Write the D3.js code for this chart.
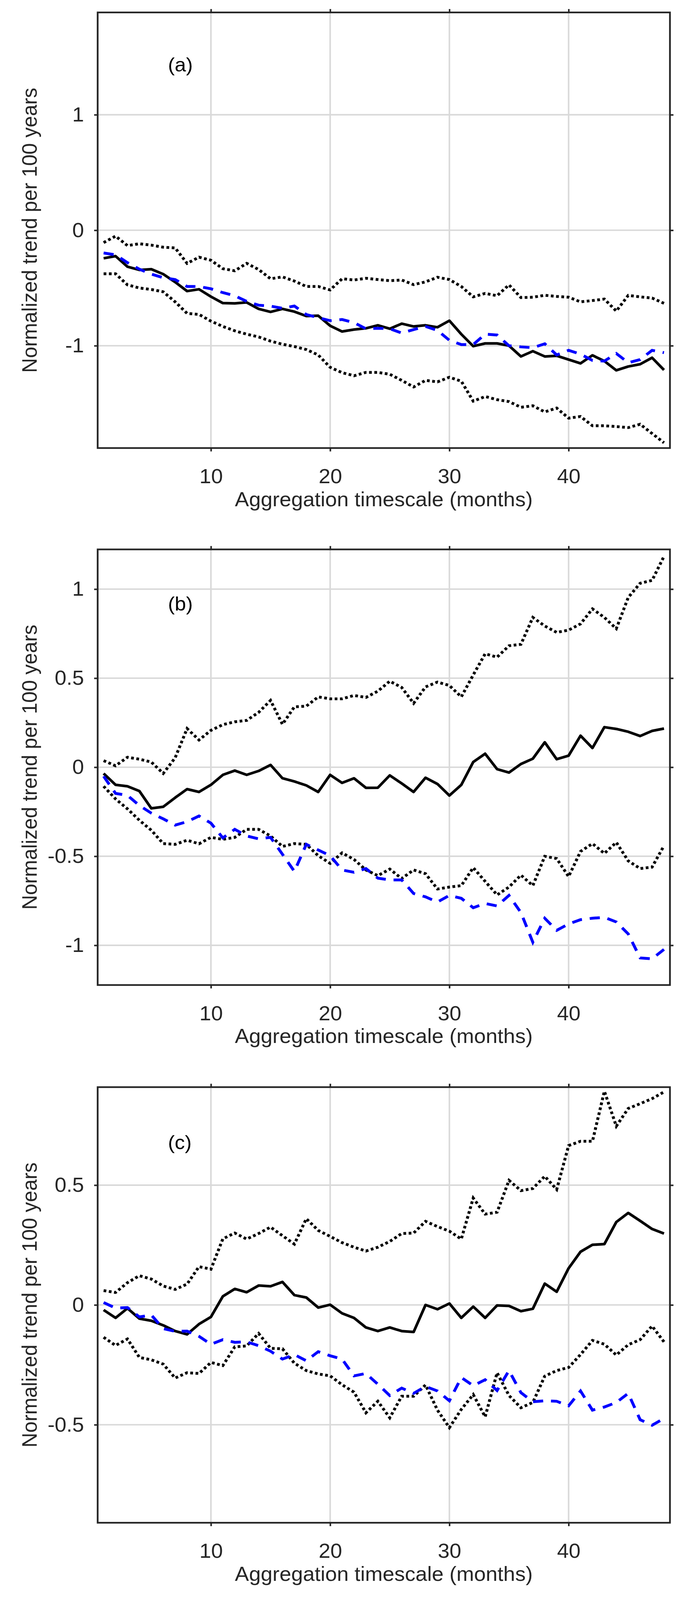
<!DOCTYPE html>
<html>
<head>
<meta charset="utf-8">
<script src="https://cdn.jsdelivr.net/npm/d3@7"></script>
<style>
  html, body { margin: 0; padding: 0; background: #fff; overflow: hidden; }
  svg { display: block; }
  text { font-family: "Liberation Sans", Arial, Helvetica, sans-serif; }
</style>
</head>
<body>
<script>
var months = [1,2,3,4,5,6,7,8,9,10,11,12,13,14,15,16,17,18,19,20,21,22,23,24,
              25,26,27,28,29,30,31,32,33,34,35,36,37,38,39,40,41,42,43,44,45,46,47,48];
var xTicks = [10, 20, 30, 40];

// panel (a)
var aMean  = [-0.243,-0.224,-0.316,-0.344,-0.337,-0.38,-0.449,-0.527,-0.511,-0.575,
              -0.631,-0.633,-0.625,-0.681,-0.707,-0.681,-0.705,-0.743,-0.74,-0.827,
              -0.877,-0.86,-0.849,-0.823,-0.853,-0.809,-0.833,-0.823,-0.84,-0.783,
              -0.9,-1.004,-0.98,-0.98,-1.0,-1.093,-1.047,-1.093,-1.087,-1.12,
              -1.153,-1.083,-1.133,-1.213,-1.18,-1.16,-1.104,-1.21];
var aUpper = [-0.107,-0.051,-0.133,-0.117,-0.129,-0.147,-0.153,-0.287,-0.233,-0.26,
              -0.333,-0.351,-0.287,-0.34,-0.42,-0.404,-0.44,-0.487,-0.487,-0.517,
              -0.42,-0.431,-0.416,-0.427,-0.437,-0.431,-0.471,-0.447,-0.407,-0.427,
              -0.487,-0.577,-0.547,-0.567,-0.473,-0.583,-0.58,-0.563,-0.573,-0.58,
              -0.62,-0.609,-0.596,-0.7,-0.564,-0.577,-0.587,-0.633];
var aLower = [-0.377,-0.377,-0.473,-0.5,-0.513,-0.533,-0.62,-0.72,-0.729,-0.787,
              -0.833,-0.871,-0.9,-0.924,-0.96,-0.987,-1.007,-1.033,-1.08,-1.187,
              -1.233,-1.26,-1.231,-1.231,-1.247,-1.3,-1.357,-1.3,-1.313,-1.273,
              -1.307,-1.48,-1.44,-1.467,-1.484,-1.533,-1.52,-1.573,-1.54,-1.627,
              -1.613,-1.693,-1.693,-1.7,-1.709,-1.68,-1.76,-1.84];
var aObs   = [-0.197,-0.213,-0.281,-0.337,-0.38,-0.411,-0.427,-0.487,-0.487,-0.507,
              -0.54,-0.567,-0.616,-0.649,-0.657,-0.676,-0.656,-0.73,-0.757,-0.783,
              -0.773,-0.8,-0.853,-0.849,-0.853,-0.89,-0.86,-0.833,-0.867,-0.953,
              -0.99,-0.99,-0.9,-0.907,-1.0,-1.01,-1.017,-0.983,-1.08,-1.04,
              -1.073,-1.127,-1.133,-1.067,-1.147,-1.12,-1.04,-1.06];
var aTicks = [-1, 0, 1];

// panel (b)
var bMean  = [-0.035,-0.099,-0.107,-0.134,-0.231,-0.222,-0.171,-0.123,-0.139,-0.099,
              -0.043,-0.019,-0.043,-0.021,0.013,-0.062,-0.08,-0.102,-0.139,-0.043,
              -0.088,-0.062,-0.116,-0.115,-0.046,-0.091,-0.139,-0.059,-0.094,-0.159,
              -0.099,0.029,0.076,-0.011,-0.03,0.018,0.048,0.14,0.045,0.065,
              0.177,0.108,0.225,0.215,0.199,0.175,0.204,0.217];
var bUpper = [0.037,0.008,0.056,0.045,0.029,-0.035,0.053,0.217,0.153,0.207,
              0.239,0.255,0.263,0.308,0.375,0.241,0.339,0.343,0.395,0.384,
              0.384,0.403,0.392,0.427,0.483,0.448,0.359,0.451,0.478,0.459,
              0.395,0.518,0.637,0.618,0.682,0.69,0.841,0.793,0.757,0.77,
              0.805,0.889,0.841,0.778,0.953,1.033,1.049,1.184];
var bLower = [-0.107,-0.178,-0.234,-0.298,-0.354,-0.429,-0.433,-0.41,-0.43,-0.394,
              -0.405,-0.394,-0.349,-0.349,-0.386,-0.445,-0.429,-0.433,-0.497,-0.54,
              -0.481,-0.518,-0.577,-0.609,-0.572,-0.625,-0.577,-0.598,-0.684,-0.673,
              -0.665,-0.564,-0.641,-0.717,-0.673,-0.606,-0.665,-0.5,-0.513,-0.614,
              -0.473,-0.429,-0.484,-0.422,-0.526,-0.569,-0.561,-0.441];
var bObs   = [-0.051,-0.147,-0.158,-0.215,-0.258,-0.29,-0.325,-0.306,-0.274,-0.314,
              -0.397,-0.349,-0.386,-0.402,-0.394,-0.489,-0.585,-0.433,-0.465,-0.497,
              -0.577,-0.59,-0.569,-0.623,-0.633,-0.633,-0.709,-0.728,-0.757,-0.72,
              -0.736,-0.789,-0.765,-0.779,-0.72,-0.816,-0.983,-0.848,-0.916,-0.88,
              -0.856,-0.848,-0.843,-0.869,-0.936,-1.071,-1.076,-1.023];
var bTicks = [-1, -0.5, 0, 0.5, 1];

// panel (c)
var cMean  = [-0.021,-0.054,-0.014,-0.057,-0.066,-0.085,-0.109,-0.123,-0.08,-0.05,
              0.036,0.067,0.053,0.081,0.078,0.096,0.041,0.031,-0.011,0.001,
              -0.035,-0.054,-0.094,-0.109,-0.094,-0.109,-0.113,0.0,-0.018,0.006,
              -0.054,-0.007,-0.054,-0.002,-0.004,-0.026,-0.016,0.089,0.055,0.153,
              0.222,0.251,0.254,0.346,0.384,0.351,0.317,0.298];
var cUpper = [0.06,0.052,0.093,0.122,0.108,0.079,0.065,0.087,0.16,0.149,
              0.276,0.3,0.275,0.298,0.325,0.289,0.254,0.36,0.311,0.286,
              0.26,0.241,0.225,0.241,0.265,0.298,0.3,0.349,0.327,0.308,
              0.275,0.446,0.379,0.387,0.52,0.477,0.486,0.537,0.482,0.665,
              0.683,0.683,0.892,0.746,0.82,0.84,0.861,0.889];
var cLower = [-0.135,-0.169,-0.142,-0.219,-0.229,-0.247,-0.305,-0.283,-0.286,-0.24,
              -0.253,-0.175,-0.171,-0.119,-0.181,-0.183,-0.243,-0.274,-0.288,-0.296,
              -0.333,-0.364,-0.45,-0.402,-0.471,-0.381,-0.381,-0.334,-0.439,-0.512,
              -0.436,-0.374,-0.467,-0.283,-0.378,-0.429,-0.407,-0.297,-0.274,-0.261,
              -0.207,-0.148,-0.164,-0.209,-0.166,-0.145,-0.088,-0.154];
var cObs   = [0.01,-0.013,-0.011,-0.05,-0.042,-0.099,-0.11,-0.109,-0.131,-0.164,
              -0.145,-0.156,-0.154,-0.17,-0.193,-0.226,-0.207,-0.233,-0.195,-0.212,
              -0.226,-0.296,-0.286,-0.331,-0.378,-0.347,-0.369,-0.34,-0.359,-0.4,
              -0.303,-0.337,-0.312,-0.357,-0.274,-0.366,-0.404,-0.4,-0.402,-0.421,
              -0.359,-0.439,-0.426,-0.407,-0.369,-0.479,-0.502,-0.474];
var cTicks = [-0.5, 0, 0.5];

var panels = [
  {tag: "(a)", mean: aMean, upper: aUpper, lower: aLower, obs: aObs, ticks: aTicks, lim: 1.886, top: 33,   tagY: 157},
  {tag: "(b)", mean: bMean, upper: bUpper, lower: bLower, obs: bObs, ticks: bTicks, lim: 1.223, top: 1458, tagY: 162},
  {tag: "(c)", mean: cMean, upper: cUpper, lower: cLower, obs: cObs, ticks: cTicks, lim: 0.909, top: 2885, tagY: 165}
];

var W = 1774, H = 4246;
var left = 250, right = 1715, h = 1156, w = right - left;
var axisColor = "#262626", gridColor = "#d9d9d9";

// fit the whole figure into whatever viewport we get
var vw = window.innerWidth || W, vh = window.innerHeight || H;
var svg = d3.select("body").append("svg")
      .attr("width", vw).attr("height", vh)
      .attr("viewBox", "0 0 " + W + " " + H)
      .attr("preserveAspectRatio", "none");

var x = d3.scaleLinear().domain([0.5, 48.5]).range([0, w]);

panels.forEach(function(p){
  var y = d3.scaleLinear().domain([-p.lim, p.lim]).range([h, 0]);
  var g = svg.append("g").attr("transform", "translate(" + left + "," + p.top + ")");

  // grid
  g.append("g").selectAll("line").data(xTicks).enter().append("line")
        .attr("x1", function(d){ return x(d); }).attr("x2", function(d){ return x(d); })
        .attr("y1", 0).attr("y2", h)
        .attr("stroke", gridColor).attr("stroke-width", 4);
  g.append("g").selectAll("line").data(p.ticks).enter().append("line")
        .attr("x1", 0).attr("x2", w)
        .attr("y1", function(d){ return y(d); }).attr("y2", function(d){ return y(d); })
        .attr("stroke", gridColor).attr("stroke-width", 4);

  var line = d3.line()
        .x(function(d, i){ return x(months[i]); })
        .y(function(d){ return y(d); });

  g.append("path").datum(p.upper).attr("d", line)
        .attr("fill", "none").attr("stroke", "#000").attr("stroke-width", 7.5)
        .attr("stroke-dasharray", "7,6.5");
  g.append("path").datum(p.lower).attr("d", line)
        .attr("fill", "none").attr("stroke", "#000").attr("stroke-width", 7.5)
        .attr("stroke-dasharray", "7,6.5");
  g.append("path").datum(p.mean).attr("d", line)
        .attr("fill", "none").attr("stroke", "#000").attr("stroke-width", 7)
        .attr("stroke-linejoin", "round");
  g.append("path").datum(p.obs).attr("d", line)
        .attr("fill", "none").attr("stroke", "#0000ff").attr("stroke-width", 7.5)
        .attr("stroke-dasharray", "26,20");

  // axes, ticks pointing out on all four sides
  var xb = g.append("g").attr("transform", "translate(0," + h + ")")
        .call(d3.axisBottom(x).tickValues(xTicks).tickSizeInner(9).tickSizeOuter(0).tickPadding(46));
  var xt = g.append("g")
        .call(d3.axisTop(x).tickValues(xTicks).tickSizeInner(9).tickSizeOuter(0).tickFormat(""));
  var yl = g.append("g")
        .call(d3.axisLeft(y).tickValues(p.ticks).tickSizeInner(9).tickSizeOuter(0).tickPadding(26)
              .tickFormat(function(d){ return String(d); }));
  var yr = g.append("g").attr("transform", "translate(" + w + ",0)")
        .call(d3.axisRight(y).tickValues(p.ticks).tickSizeInner(9).tickSizeOuter(0).tickFormat(""));

  [xb, xt, yl, yr].forEach(function(a){
    a.select(".domain").remove();
    a.selectAll(".tick line").attr("stroke", axisColor).attr("stroke-width", 4);
    a.selectAll(".tick text").attr("fill", axisColor).attr("font-size", 54)
          .attr("font-family", "Liberation Sans, Arial, sans-serif");
  });

  g.append("rect")
        .attr("x", 0).attr("y", 0).attr("width", w).attr("height", h)
        .attr("fill", "none").attr("stroke", axisColor).attr("stroke-width", 4.5);

  g.append("text")
        .text(p.tag)
        .attr("x", 180).attr("y", p.tagY)
        .attr("font-size", 52).attr("fill", "#000");

  g.append("text")
        .text("Aggregation timescale (months)")
        .attr("x", w / 2).attr("y", h + 154)
        .attr("text-anchor", "middle")
        .attr("font-size", 54).attr("fill", axisColor);

  g.append("text")
        .text("Normalized trend per 100 years")
        .attr("transform", "translate(" + (94 - left) + "," + (h / 2) + ") rotate(-90)")
        .attr("text-anchor", "middle")
        .attr("font-size", 54).attr("fill", axisColor);
});
</script>
</body>
</html>
